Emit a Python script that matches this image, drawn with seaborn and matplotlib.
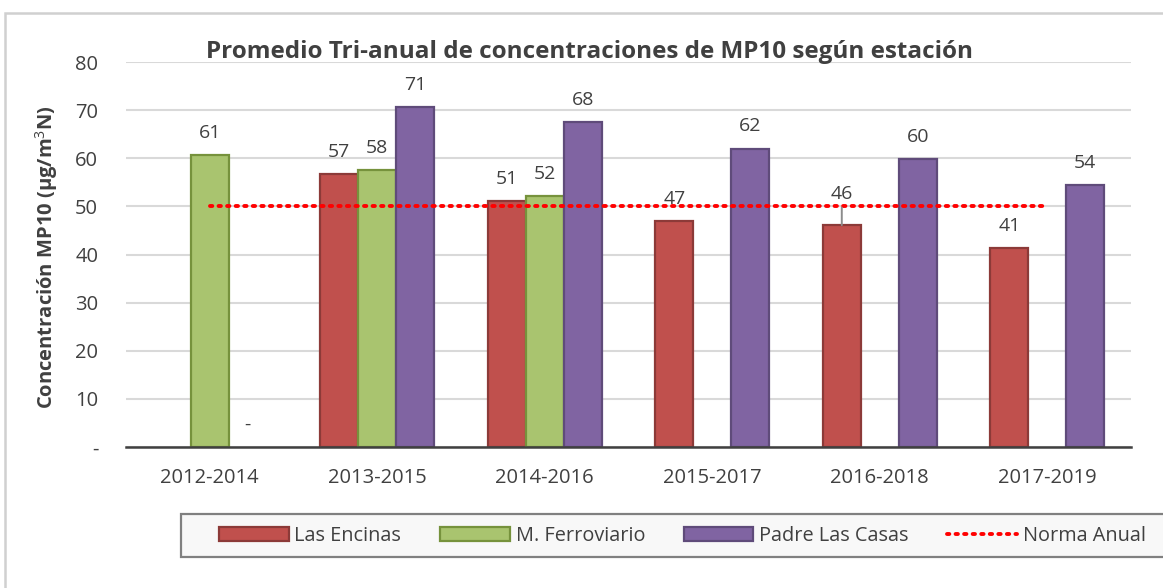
import numpy as np
import pandas as pd
import seaborn as sns
import matplotlib
matplotlib.use("Agg")
import matplotlib.pyplot as plt
from matplotlib.patches import Rectangle
from matplotlib.lines import Line2D

# ---- data ----
periods = ["2012-2014", "2013-2015", "2014-2016", "2015-2017", "2016-2018", "2017-2019"]
series = ["Las Encinas", "M. Ferroviario", "Padre Las Casas"]
las_encinas = [np.nan, 56.8, 51.1, 47.0, 46.1, 41.4]
ferroviario = [60.6, 57.6, 52.1, np.nan, np.nan, np.nan]
padre_las_casas = [0.0, 70.6, 67.6, 62.0, 59.8, 54.4]
norma_anual = [50, 50, 50, 50, 50, 50]
yticks = [0, 10, 20, 30, 40, 50, 60, 70, 80]
ytick_labels = ["-", "10", "20", "30", "40", "50", "60", "70", "80"]

title = "Promedio Tri-anual de concentraciones de MP10 según estación"
ylabel = "Concentración MP10 (µg/m$^3$N)"

sns.set_theme(style="white")
plt.rcParams["font.family"] = ["Open Sans", "DejaVu Sans"]
plt.rcParams["mathtext.fontset"] = "custom"
plt.rcParams["mathtext.rm"] = "Open Sans"
plt.rcParams["mathtext.bf"] = "Open Sans:bold"

fills = {"Las Encinas": "#C0504D", "M. Ferroviario": "#A9C46F", "Padre Las Casas": "#8064A2"}
edges = {"Las Encinas": "#8C3A38", "M. Ferroviario": "#76923C", "Padre Las Casas": "#5F4B7A"}
txt = "#404040"

rows = []
for s, vals in zip(series, [las_encinas, ferroviario, padre_las_casas]):
    for p, v in zip(periods, vals):
        rows.append({"periodo": p, "serie": s, "valor": v})
df = pd.DataFrame(rows)
df_plot = df.dropna()

fig = plt.figure(figsize=(11.63, 5.88), dpi=100)
ax = fig.add_axes([126 / 1163, 1 - 447 / 588, (1131 - 126) / 1163, (447 - 62) / 588])

sns.barplot(data=df_plot, x="periodo", y="valor", hue="serie", order=periods,
            hue_order=series, palette=fills, width=0.68, ax=ax, legend=False,
            saturation=1, linewidth=1.6, edgecolor="black")

# edge colours per series
for cont, s in zip(ax.containers, series):
    for patch in cont.patches:
        patch.set_edgecolor(edges[s])
        if patch.get_height() == 0:
            patch.set_linewidth(0)

ax.set_xlim(-0.5, len(periods) - 0.5)
ax.set_ylim(0, 80)
ax.set_yticks(yticks)
ax.set_yticklabels(ytick_labels)
ax.grid(axis="y", color="#D9D9D9", linewidth=1.5, zorder=0)
ax.set_axisbelow(True)
for sp in ["top", "right", "left"]:
    ax.spines[sp].set_visible(False)
ax.spines["bottom"].set_color("#404040")
ax.spines["bottom"].set_linewidth(1.8)
ax.tick_params(axis="both", length=0, labelsize=14.5, colors=txt)
ax.tick_params(axis="x", pad=15)
ax.tick_params(axis="y", pad=20)
ax.set_xlabel("")
ax.set_ylabel("")

# norma anual line
ax.plot(range(len(periods)), norma_anual, linestyle=(0, (0.6, 1.6)), color="#FF0000",
        linewidth=2.8, dash_capstyle="round", zorder=5)

# data labels
for cont, s in zip(ax.containers, series):
    sub = df_plot[df_plot["serie"] == s].reset_index(drop=True)
    for patch, (_, r) in zip(cont.patches, sub.iterrows()):
        h = r["valor"]
        xc = patch.get_x() + patch.get_width() / 2
        lab = "-" if h == 0 else f"{h:.0f}"
        if s == "Las Encinas" and r["periodo"] == "2016-2018":
            ax.annotate(lab, xy=(xc, h), xytext=(xc, h + 6.5), ha="center", va="center",
                        fontsize=14, color=txt, zorder=6,
                        arrowprops=dict(arrowstyle="-", color="#8C8C8C", lw=1.4,
                                        shrinkA=1, shrinkB=0, zorder=4))
        else:
            ax.text(xc, h + 4.6, lab, ha="center", va="center", fontsize=14, color=txt, zorder=6)

# title and y label
fig.text(590 / 1163, 1 - 52 / 588, title, ha="center", va="center", fontsize=17.5,
         fontweight="bold", color=txt)
fig.text(47 / 1163, 1 - 257 / 588, ylabel, ha="center", va="center", rotation=90,
         fontsize=14.5, fontweight="bold", color=txt)

# outer chart border (left and top visible)
fig.patches.append(Rectangle((5 / 1163, -0.2), 1.5, 1.2 - 13 / 588,
                             transform=fig.transFigure, fill=False,
                             edgecolor="#D0D0D0", linewidth=1.8, zorder=0))

# legend box
fig.patches.append(Rectangle((181 / 1163, 1 - 557 / 588), 1.0, 43 / 588,
                             transform=fig.transFigure, facecolor="#F8F8F8",
                             edgecolor="#808080", linewidth=1.6, zorder=1))
handles = [Rectangle((0, 0), 1, 1, facecolor=fills[s], edgecolor=edges[s], linewidth=1.6)
           for s in series]
handles.append(Line2D([0], [0], linestyle=(0, (0.6, 1.6)), color="#FF0000", linewidth=2.8,
                      dash_capstyle="round"))
leg = fig.legend(handles, series + ["Norma Anual"], loc="center left",
                 bbox_to_anchor=(219 / 1163, 1 - 536 / 588), ncol=4, frameon=False,
                 fontsize=14.3, handlelength=3.5, handleheight=0.7, handletextpad=0.3,
                 columnspacing=1.95, borderpad=0, borderaxespad=0)
for t in leg.get_texts():
    t.set_color(txt)
leg.set_zorder(2)

fig.savefig("out.png", dpi=100)
